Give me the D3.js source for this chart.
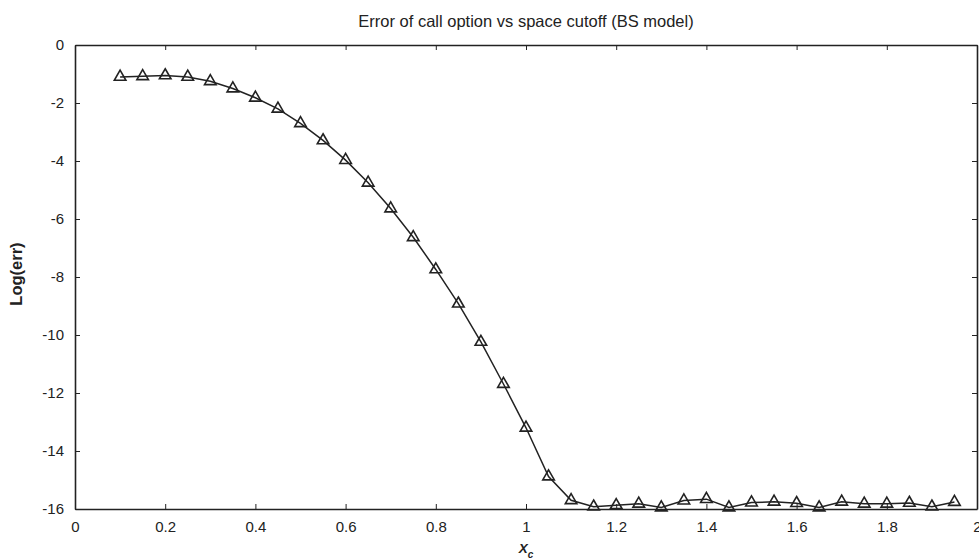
<!DOCTYPE html>
<html>
<head>
<meta charset="utf-8">
<script src="https://d3js.org/d3.v7.min.js"></script>
<style>
body { margin: 0; background: #fff; }
svg { font-family: "Liberation Sans", Arial, sans-serif; }
.axis path, .axis line { stroke: #222; }
.axis text { fill: #222; font-size: 15px; }
</style>
</head>
<body>
<svg id="chart" width="979" height="559"></svg>
<script>
// cutoff values and the log error
var xc = [0.1, 0.15, 0.2, 0.25, 0.3, 0.35, 0.4, 0.45, 0.5, 0.55,
          0.6, 0.65, 0.7, 0.75, 0.8, 0.85, 0.9, 0.95, 1.0, 1.05,
          1.1, 1.15, 1.2, 1.25, 1.3, 1.35, 1.4, 1.45, 1.5, 1.55,
          1.6, 1.65, 1.7, 1.75, 1.8, 1.85, 1.9, 1.95];
var logErr = [-1.1, -1.08, -1.05, -1.1, -1.25, -1.5, -1.82, -2.2, -2.7, -3.29,
              -3.97, -4.75, -5.64, -6.63, -7.74, -8.92, -10.24, -11.69, -13.2, -14.88,
              -15.7, -15.92, -15.87, -15.82, -15.95, -15.71, -15.66, -15.95, -15.78, -15.75,
              -15.8, -15.95, -15.75, -15.82, -15.82, -15.79, -15.92, -15.76];
var xTicks = [0, 0.2, 0.4, 0.6, 0.8, 1, 1.2, 1.4, 1.6, 1.8, 2];
var yTicks = [0, -2, -4, -6, -8, -10, -12, -14, -16];

var svg = d3.select("#chart"),
    margin = {top: 45, right: 2, bottom: 50, left: 75},
    width = +svg.attr("width") - margin.left - margin.right,
    height = +svg.attr("height") - margin.top - margin.bottom,
    g = svg.append("g").attr("transform", "translate(" + margin.left + "," + margin.top + ")");

var x = d3.scaleLinear().domain([0, 2]).range([0, width]);
var y = d3.scaleLinear().domain([-16, 0]).range([height, 0]);

// plain hyphen minus like the original figure
var fmt = function(d) { return String(d); };

// box with inward ticks on all four sides
g.append("g").attr("class", "axis")
    .attr("transform", "translate(0," + height + ")")
    .call(d3.axisBottom(x).tickValues(xTicks).tickSizeInner(-5).tickSizeOuter(0).tickPadding(12).tickFormat(fmt))
    .call(function(a) { a.select(".domain").attr("stroke-width", 1.6); });
g.append("g").attr("class", "axis")
    .call(d3.axisTop(x).tickValues(xTicks).tickSizeInner(-5).tickSizeOuter(0).tickFormat(""))
    .call(function(a) { a.select(".domain").attr("stroke-width", 1.6); });
g.append("g").attr("class", "axis")
    .call(d3.axisLeft(y).tickValues(yTicks).tickSizeInner(-5).tickSizeOuter(0).tickPadding(11).tickFormat(fmt))
    .call(function(a) { a.select(".domain").attr("stroke-width", 1.6); });
g.append("g").attr("class", "axis")
    .attr("transform", "translate(" + width + ",0)")
    .call(d3.axisRight(y).tickValues(yTicks).tickSizeInner(-5).tickSizeOuter(0).tickFormat(""))
    .call(function(a) { a.select(".domain").attr("stroke-width", 1.6); });

var pts = xc.map(function(d, i) { return [d, logErr[i]]; });

g.append("path")
    .datum(pts)
    .attr("fill", "none")
    .attr("stroke", "#222")
    .attr("stroke-width", 1.5)
    .attr("d", d3.line()
        .x(function(d) { return x(d[0]); })
        .y(function(d) { return y(d[1]); }));

g.selectAll(".mark")
    .data(pts)
    .enter().append("path")
    .attr("class", "mark")
    .attr("transform", function(d) { return "translate(" + x(d[0]) + "," + y(d[1]) + ")"; })
    .attr("d", d3.symbol().type(d3.symbolTriangle).size(58))
    .attr("fill", "none")
    .attr("stroke", "#222")
    .attr("stroke-width", 1.6);

svg.append("text")
    .attr("x", margin.left + width / 2)
    .attr("y", 27)
    .attr("text-anchor", "middle")
    .attr("font-size", 16.5)
    .attr("fill", "#222")
    .text("Error of call option vs space cutoff (BS model)");

svg.append("text")
    .attr("transform", "translate(22," + (margin.top + height / 2 - 3) + ") rotate(-90)")
    .attr("text-anchor", "middle")
    .attr("font-size", 16.5)
    .attr("font-weight", "bold")
    .attr("fill", "#222")
    .text("Log(err)");

var xl = svg.append("text")
    .attr("x", margin.left + width / 2)
    .attr("y", 553)
    .attr("text-anchor", "middle")
    .attr("font-size", 13.5)
    .attr("font-weight", "bold")
    .attr("font-style", "italic")
    .attr("fill", "#222");
xl.append("tspan").text("X");
xl.append("tspan").attr("dy", 5).attr("font-size", 10).text("c");
</script>
</body>
</html>
